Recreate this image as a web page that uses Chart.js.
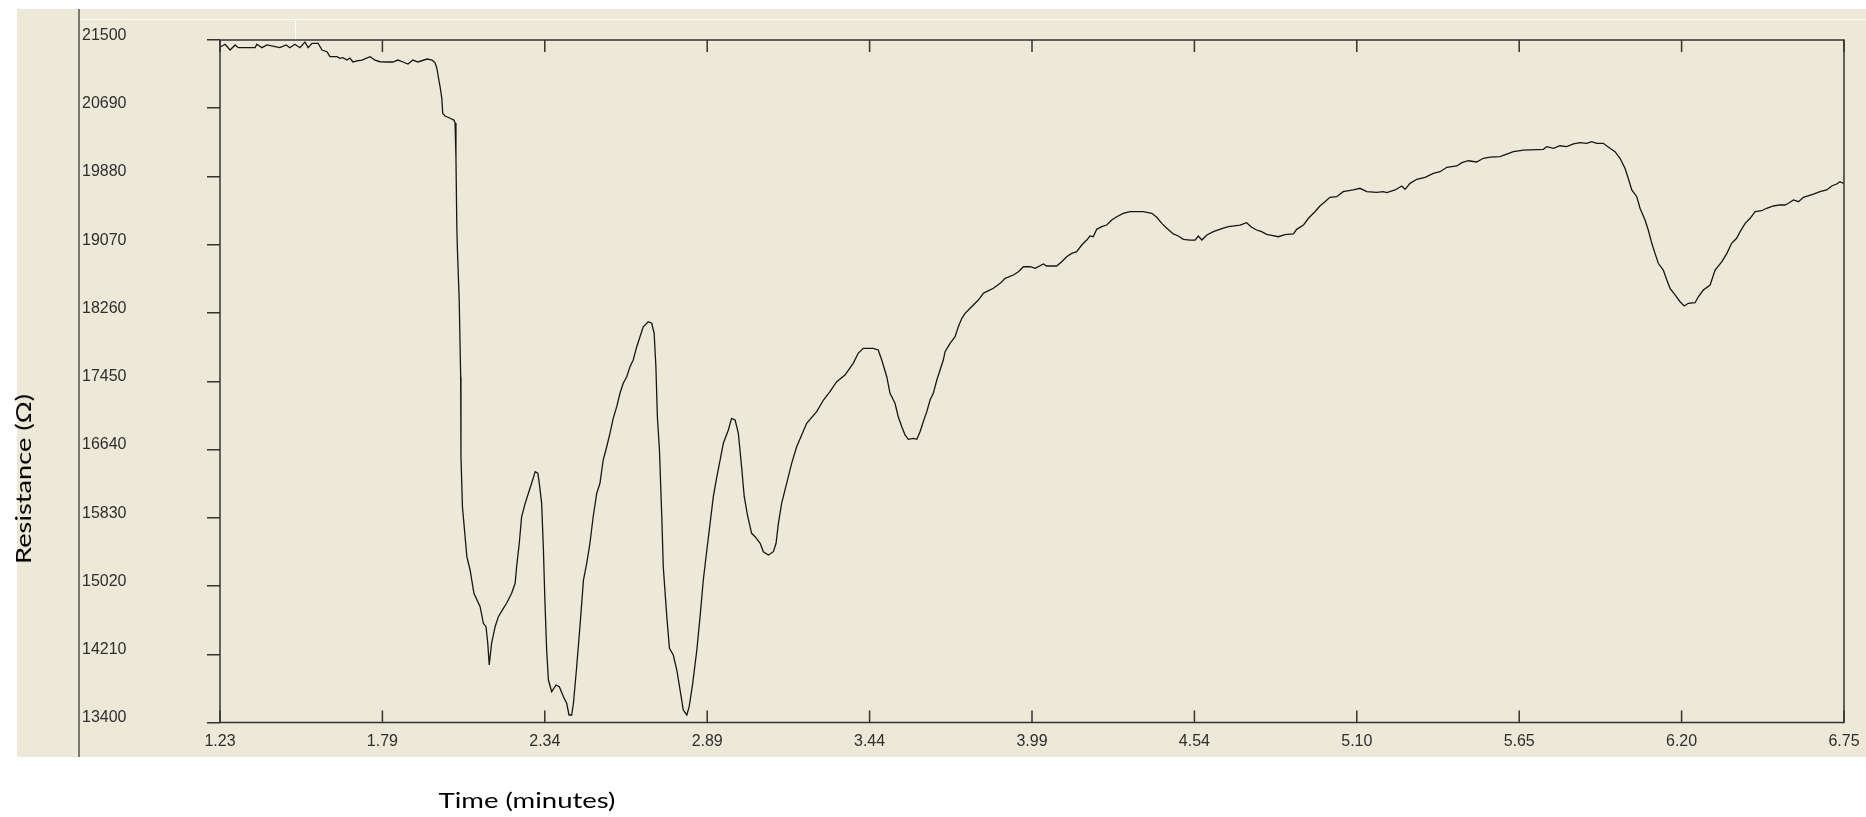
<!DOCTYPE html>
<html>
<head>
<meta charset="utf-8">
<title>Resistance vs time</title>
<script src="https://cdn.jsdelivr.net/npm/chart.js@4/dist/chart.umd.min.js"></script>
<style>
  html, body { margin: 0; padding: 0; background: #ffffff; }
  #stage { position: relative; width: 1866px; height: 817px; overflow: hidden; background: #ffffff; }
  #panel { position: absolute; left: 17px; top: 9px; width: 1849px; height: 748px; background: #ece9d8; }
  #divider { position: absolute; left: 78px; top: 9px; width: 2px; height: 748px; background: #7a7972; }
  #hline { position: absolute; left: 80px; top: 19px; width: 1786px; height: 1px; background: #ffffff; }
  #vline { position: absolute; left: 295px; top: 20px; width: 1px; height: 20px; background: #ffffff; }
  #chart { position: absolute; left: 0; top: 0; }
  .title { position: absolute; font-family: Lato, "Open Sans", sans-serif; font-size: 22px; color: #000; white-space: nowrap; line-height: 1; }
  #xTitle { left: 527px; top: 800px; transform: translate(-50%, -50%) scaleX(1.25); }
  #yTitle { left: 23px; top: 479px; transform: translate(-50%, -50%) rotate(-90deg) scaleX(1.24); }
</style>
</head>
<body>
<div id="stage">
  <div id="panel"></div>
  <div id="divider"></div>
  <div id="hline"></div>
  <div id="vline"></div>
  <canvas id="chart" width="1866" height="817"></canvas>
  <div class="title" id="xTitle">Time (minutes)</div>
  <div class="title" id="yTitle">Resistance (Ω)</div>
</div>
<script>
// Sampled time (minutes)
const timeMin = [
  1.237,1.252,1.269,1.286,1.297,1.354,1.360,1.377,1.394,1.438,
  1.459,1.472,1.489,1.506,1.523,1.534,1.547,1.568,1.581,1.598,
  1.608,1.632,1.642,1.652,1.666,1.676,1.686,1.700,1.717,1.744,
  1.761,1.778,1.802,1.822,1.839,1.856,1.873,1.890,1.907,1.938,
  1.955,1.965,1.971,1.976,1.982,1.988,1.991,1.999,2.016,2.029,
  2.033,2.036,2.039,2.041,2.047,2.052,2.053,2.058,2.073,2.084,
  2.097,2.118,2.129,2.138,2.144,2.149,2.157,2.169,2.180,2.197,
  2.208,2.225,2.237,2.242,2.251,2.259,2.271,2.282,2.293,2.305,
  2.314,2.319,2.327,2.333,2.338,2.344,2.350,2.361,2.376,2.387,
  2.401,2.412,2.420,2.429,2.435,2.446,2.457,2.469,2.480,2.491,
  2.502,2.514,2.525,2.536,2.548,2.559,2.570,2.582,2.593,2.604,
  2.616,2.627,2.638,2.650,2.661,2.672,2.689,2.701,2.709,2.715,
  2.720,2.727,2.735,2.740,2.752,2.761,2.774,2.786,2.797,2.808,
  2.820,2.828,2.840,2.854,2.865,2.876,2.888,2.899,2.910,2.922,
  2.933,2.944,2.961,2.972,2.984,2.995,3.006,3.015,3.027,3.040,
  3.052,3.069,3.080,3.097,3.114,3.123,3.131,3.142,3.159,3.176,
  3.193,3.227,3.261,3.284,3.306,3.329,3.357,3.385,3.402,3.419,
  3.453,3.470,3.482,3.499,3.510,3.527,3.538,3.550,3.561,3.572,
  3.589,3.601,3.612,3.623,3.635,3.646,3.657,3.669,3.680,3.691,
  3.697,3.714,3.731,3.742,3.754,3.765,3.782,3.793,3.810,3.827,
  3.838,3.861,3.884,3.901,3.929,3.946,3.963,3.986,4.003,4.031,
  4.042,4.076,4.093,4.110,4.127,4.144,4.161,4.178,4.189,4.200,
  4.212,4.229,4.246,4.263,4.280,4.302,4.325,4.370,4.399,4.416,
  4.433,4.450,4.472,4.489,4.506,4.529,4.546,4.557,4.569,4.586,
  4.608,4.637,4.659,4.699,4.721,4.738,4.755,4.772,4.789,4.806,
  4.829,4.851,4.880,4.891,4.914,4.931,4.953,4.970,4.987,5.004,
  5.027,5.049,5.083,5.106,5.129,5.163,5.185,5.197,5.225,5.248,
  5.259,5.276,5.299,5.327,5.355,5.378,5.401,5.435,5.452,5.474,
  5.502,5.525,5.548,5.582,5.593,5.627,5.661,5.729,5.740,5.763,
  5.785,5.808,5.831,5.853,5.876,5.893,5.910,5.932,5.955,5.972,
  5.989,6.006,6.017,6.029,6.046,6.057,6.074,6.085,6.097,6.108,
  6.119,6.136,6.148,6.159,6.176,6.193,6.207,6.221,6.244,6.255,
  6.272,6.295,6.312,6.335,6.352,6.368,6.385,6.397,6.414,6.431,
  6.448,6.470,6.487,6.510,6.532,6.549,6.561,6.578,6.595,6.612,
  6.646,6.668,6.691,6.708,6.725,6.736,6.748
];

// Measured resistance (ohms) at each sample time
const resistanceOhm = [
  21420,21449,21381,21441,21409,21409,21449,21409,21441,21409,
  21441,21409,21449,21409,21476,21409,21461,21461,21381,21361,
  21302,21302,21283,21290,21262,21286,21239,21251,21262,21302,
  21262,21242,21239,21239,21262,21239,21215,21262,21239,21274,
  21262,21230,21168,21064,20946,20808,20630,20598,20571,20550,
  20515,20100,19269,19008,18414,17504,16555,15961,15368,15210,
  14933,14774,14577,14537,14340,14082,14340,14537,14656,14755,
  14815,14933,15052,15249,15527,15842,16001,16120,16239,16377,
  16358,16239,16001,15447,14854,14260,13904,13766,13845,13825,
  13706,13628,13489,13489,13628,14062,14537,15091,15289,15527,
  15842,16120,16239,16515,16673,16832,17010,17148,17307,17426,
  17504,17623,17702,17860,17979,18097,18157,18138,18019,17623,
  17029,16634,15842,15249,14656,14281,14201,14023,13786,13548,
  13489,13588,13865,14260,14656,15091,15447,15764,16080,16317,
  16515,16714,16871,17010,16990,16832,16436,16080,15842,15645,
  15605,15527,15427,15388,15427,15527,15764,16001,16239,16476,
  16673,16951,17089,17227,17326,17445,17524,17663,17782,17841,
  17841,17821,17702,17504,17307,17188,17029,16911,16812,16761,
  16773,16761,16851,16970,17089,17227,17307,17465,17583,17702,
  17801,17900,17979,18097,18197,18256,18316,18355,18414,18494,
  18513,18553,18612,18672,18711,18750,18809,18809,18790,18841,
  18818,18818,18869,18928,18968,18987,19067,19126,19174,19165,
  19253,19284,19304,19364,19403,19443,19462,19462,19443,19396,
  19324,19265,19198,19174,19135,19126,19126,19174,19126,19186,
  19225,19260,19284,19304,19332,19277,19245,19225,19194,19182,
  19165,19189,19198,19253,19304,19384,19462,19530,19581,19633,
  19640,19700,19720,19740,19700,19692,19700,19688,19720,19767,
  19728,19799,19847,19870,19918,19937,19989,20005,20044,20067,
  20052,20096,20111,20115,20132,20174,20194,20203,20234,20215,
  20245,20234,20266,20281,20274,20293,20274,20274,20215,20174,
  20096,19977,19859,19720,19640,19503,19364,19245,19087,18968,
  18850,18770,18652,18553,18474,18394,18343,18375,18382,18453,
  18533,18592,18770,18869,18968,19087,19147,19225,19324,19384,
  19462,19474,19503,19530,19542,19542,19562,19601,19581,19633,
  19672,19700,19720,19767,19791,19818,19799
];

// Axis ranges and tick marks
const xRange = [1.2347, 6.7497];
const xTickValues = [1.2347, 1.7862, 2.3377, 2.8892, 3.4407, 3.9922, 4.5437, 5.0952, 5.6467, 6.1982, 6.7497];
const xTickLabels = ['1.23', '1.79', '2.34', '2.89', '3.44', '3.99', '4.54', '5.10', '5.65', '6.20', '6.75'];
const yRange = [13400, 21500];
const yTickValues = [13400, 14210, 15020, 15830, 16640, 17450, 18260, 19070, 19880, 20690, 21500];

const points = timeMin.map((t, i) => ({ x: t, y: resistanceOhm[i] }));

const tickFont = { family: '"Liberation Sans", Arial, sans-serif', size: 16 };
const axisInk = '#333333';

// Plot frame plus short inward tick marks on the top and bottom edges
const frameAndTicks = {
  id: 'frameAndTicks',
  afterDraw(chart) {
    const { ctx, chartArea: a, scales: { x } } = chart;
    ctx.save();
    ctx.strokeStyle = axisInk;
    ctx.lineWidth = 1.5;
    ctx.strokeRect(a.left, a.top, a.right - a.left, a.bottom - a.top);
    ctx.beginPath();
    x.ticks.forEach((t, i) => {
      const px = x.getPixelForTick(i);
      ctx.moveTo(px, a.bottom);
      ctx.lineTo(px, a.bottom - 12);
      ctx.moveTo(px, a.top);
      ctx.lineTo(px, a.top + 12);
    });
    ctx.stroke();
    ctx.restore();
  }
};

new Chart(document.getElementById('chart'), {
  type: 'line',
  data: {
    datasets: [{
      data: points,
      borderColor: '#161616',
      borderWidth: 1.3,
      pointRadius: 0,
      fill: false,
      tension: 0
    }]
  },
  options: {
    responsive: false,
    animation: false,
    devicePixelRatio: 1,
    layout: { padding: { top: 40, right: 22, bottom: 0, left: 82 } },
    plugins: { legend: { display: false }, tooltip: { enabled: false } },
    scales: {
      x: {
        type: 'linear',
        min: xRange[0],
        max: xRange[1],
        afterBuildTicks: s => { s.ticks = xTickValues.map(v => ({ value: v })); },
        afterFit: s => { s.height = 94.5; },
        grid: { display: false },
        border: { display: false },
        ticks: {
          autoSkip: false, maxRotation: 0, minRotation: 0, padding: 1,
          color: '#2e2e2e', font: tickFont,
          callback: (v, i) => xTickLabels[i]
        }
      },
      y: {
        type: 'linear',
        min: yRange[0],
        max: yRange[1],
        afterBuildTicks: s => { s.ticks = yTickValues.map(v => ({ value: v })); },
        afterFit: s => { s.width = 138; },
        grid: { drawOnChartArea: false, tickLength: 13, color: axisInk, lineWidth: 1.5 },
        border: { display: false },
        ticks: {
          autoSkip: false, padding: 2, labelOffset: -4.5, crossAlign: 'far',
          color: '#2e2e2e', font: tickFont,
          callback: v => String(v)
        }
      }
    }
  },
  plugins: [frameAndTicks]
});
</script>
</body>
</html>
